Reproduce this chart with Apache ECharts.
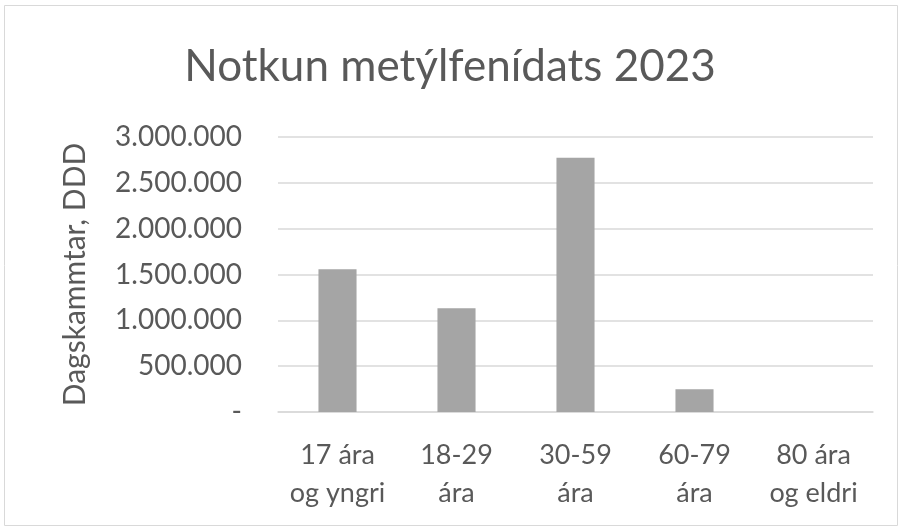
<!DOCTYPE html>
<html>
<head>
<meta charset="UTF-8" />
<title>Notkun metýlfenídats 2023</title>
<style type="text/css">
body,html{margin:0;padding:0;border:0;width:100%;height:100%;overflow:hidden;background:#fff;}
</style>
<script src="https://cdn.jsdelivr.net/npm/echarts@6/dist/echarts.min.js"></script>
</head>
<body>
<div id="chartContainer" style="width:900px;height:528px;"></div>
<script type="text/javascript">
var categories = ['17 ára\nog yngri', '18-29\nára', '30-59\nára', '60-79\nára', '80 ára\nog eldri'];
var doses = [1557000, 1131000, 2775000, 248000, 1000];
var yTicks = [0, 500000, 1000000, 1500000, 2000000, 2500000, 3000000];

function fmt(v)
{
	if(v == 0){ return '-'; }
	return String(v).replace(/\B(?=(\d{3})+(?!\d))/g, '.');
}

var font = 'Lato, "Open Sans", sans-serif';
var option = {
	animation: false,
	title: {
		text: 'Notkun metýlfenídats 2023',
		left: 'center', top: 40,
		textStyle: { fontFamily: font, fontSize: 44, fontWeight: 'normal', color: '#595959' }
	},
	graphic: [
		{ type: 'rect', shape: { x: 4.5, y: 5.5, width: 893, height: 520 },
		  style: { fill: 'none', stroke: '#d9d9d9', lineWidth: 1 } }
	],
	grid: { left: 278, right: 27, top: 137, bottom: 116 },
	xAxis: {
		type: 'category', data: categories,
		axisTick: { show: false },
		axisLine: { lineStyle: { color: '#d9d9d9', width: 1.5 } },
		axisLabel: { interval: 0, hideOverlap: false, fontFamily: font, fontSize: 27, color: '#595959', lineHeight: 38, margin: 24 }
	},
	yAxis: {
		type: 'value', min: yTicks[0], max: yTicks[yTicks.length - 1], interval: 500000,
		name: 'Dagskammtar, DDD', nameLocation: 'middle', nameGap: 188,
		nameTextStyle: { fontFamily: font, fontSize: 30, color: '#595959' },
		axisLabel: { fontFamily: font, fontSize: 28, color: '#595959', margin: 36, formatter: fmt },
		splitLine: { lineStyle: { color: '#d9d9d9', width: 1.5 } }
	},
	series: [
		{ type: 'bar', data: doses, barWidth: '32%', itemStyle: { color: '#a5a5a5' } }
	]
};

var chart = echarts.init(document.getElementById('chartContainer'));
chart.setOption(option);
</script>
</body>
</html>
